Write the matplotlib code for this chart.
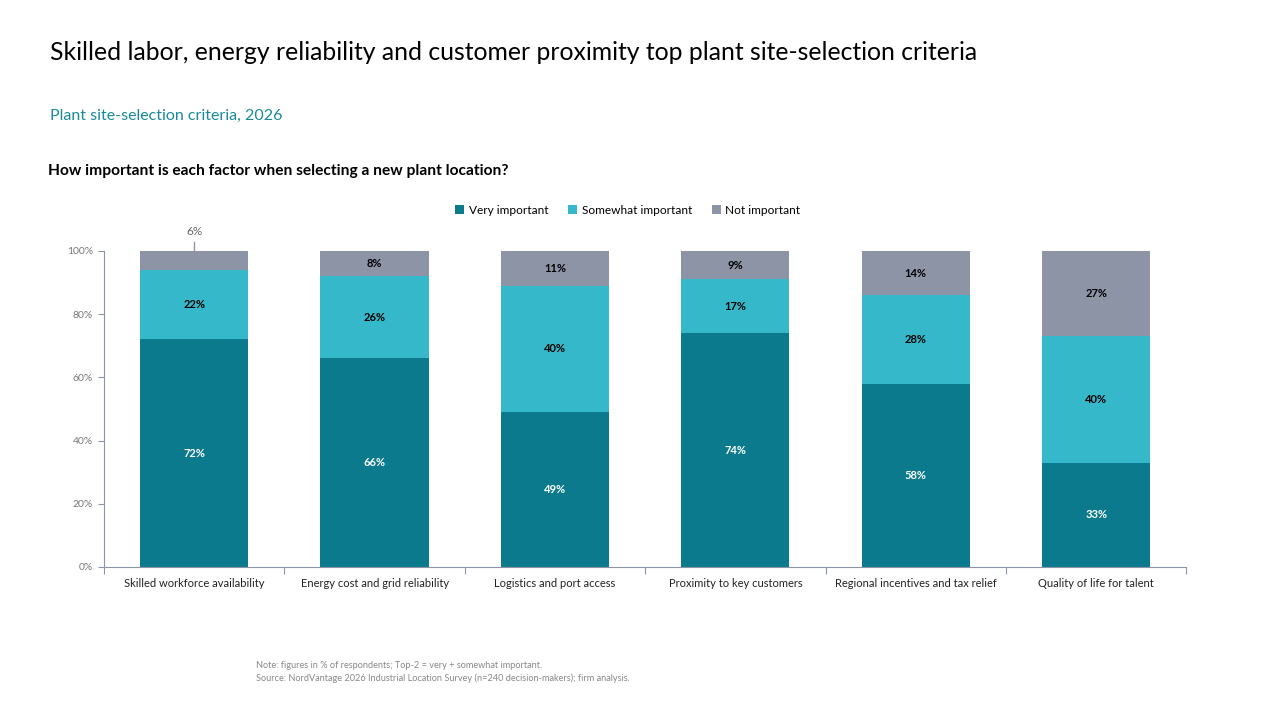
import matplotlib
matplotlib.use("Agg")
import matplotlib.pyplot as plt
import numpy as np

categories = ["Skilled workforce availability", "Energy cost and grid reliability",
              "Logistics and port access", "Proximity to key customers",
              "Regional incentives and tax relief", "Quality of life for talent"]
very = [72, 66, 49, 74, 58, 33]
somewhat = [22, 26, 40, 17, 28, 40]
notimp = [6, 8, 11, 9, 14, 27]
series_names = ["Very important", "Somewhat important", "Not important"]
yticks = [0, 20, 40, 60, 80, 100]

plt.rcParams['font.family'] = ['Lato', 'DejaVu Sans']
c_very, c_some, c_not = "#0B7A8C", "#35B8CA", "#8C94A6"

fig = plt.figure(figsize=(12.8, 7.2), dpi=100)
ax = fig.add_axes([0.08125, 0.2125, 0.8456, 0.4389])
x = np.arange(len(categories))
w = 0.6
ax.bar(x, very, w, color=c_very, label=series_names[0])
ax.bar(x, somewhat, w, bottom=very, color=c_some, label=series_names[1])
b3 = np.array(very) + np.array(somewhat)
ax.bar(x, notimp, w, bottom=b3, color=c_not, label=series_names[2])

for i in range(len(categories)):
    ax.text(x[i], very[i] / 2, f"{very[i]}%", ha="center", va="center",
            color="white", fontsize=8, fontweight="bold")
    ax.text(x[i], very[i] + somewhat[i] / 2, f"{somewhat[i]}%", ha="center", va="center",
            color="black", fontsize=8, fontweight="bold")
    if notimp[i] >= 8:
        ax.text(x[i], b3[i] + notimp[i] / 2, f"{notimp[i]}%", ha="center", va="center",
                color="black", fontsize=8, fontweight="bold")
    else:
        ax.plot([x[i], x[i]], [100, 103], color="#8C94A6", lw=1, clip_on=False)
        ax.text(x[i], 104.5, f"{notimp[i]}%", ha="center", va="bottom",
                color="#666666", fontsize=8.5)

ax.set_xlim(-0.5, len(categories) - 0.5)
ax.set_ylim(0, 100)
ax.set_yticks(yticks)
ax.set_yticklabels([f"{t}%" for t in yticks], color="#777777", fontsize=7.5)
ax.set_xticks(np.arange(len(categories) + 1) - 0.5, minor=False)
ax.set_xticklabels([])
ax.set_xticks(x, minor=True)
ax.set_xticklabels(categories, minor=True, fontsize=8, color="#222222")
ax.tick_params(axis="x", which="minor", length=0, pad=8)
ax.tick_params(axis="x", which="major", length=5, color="#8C94A6")
ax.tick_params(axis="y", length=4, color="#8C94A6", pad=4)
for s in ["top", "right"]:
    ax.spines[s].set_visible(False)
ax.spines["left"].set_color("#8C94A6")
ax.spines["bottom"].set_color("#8C94A6")

fig.text(50 / 1280, 1 - 52 / 720, "Skilled labor, energy reliability and customer proximity top plant site-selection criteria",
         fontsize=17.8, va="center", ha="left", color="black")
fig.text(50 / 1280, 1 - 116 / 720, "Plant site-selection criteria, 2026", fontsize=11.5,
         va="center", ha="left", color="#1A8A9A")
fig.text(48 / 1280, 1 - 171 / 720, "How important is each factor when selecting a new plant location?",
         fontsize=11.2, fontweight="bold", va="center", ha="left", color="black")

handles, labels = ax.get_legend_handles_labels()
fig.legend(handles, labels, loc="center", bbox_to_anchor=(628 / 1280, 1 - 210 / 720), ncol=3,
           frameon=False, fontsize=8.6, handlelength=0.7, handleheight=0.7, handletextpad=0.4,
           columnspacing=1.7)

fig.text(256 / 1280, 1 - 666 / 720, "Note: figures in % of respondents; Top-2 = very + somewhat important.",
         fontsize=6.6, color="#888888", va="center", ha="left")
fig.text(256 / 1280, 1 - 678 / 720, "Source: NordVantage 2026 Industrial Location Survey (n=240 decision-makers); firm analysis.",
         fontsize=6.6, color="#888888", va="center", ha="left")

fig.savefig("out.png", dpi=100)
